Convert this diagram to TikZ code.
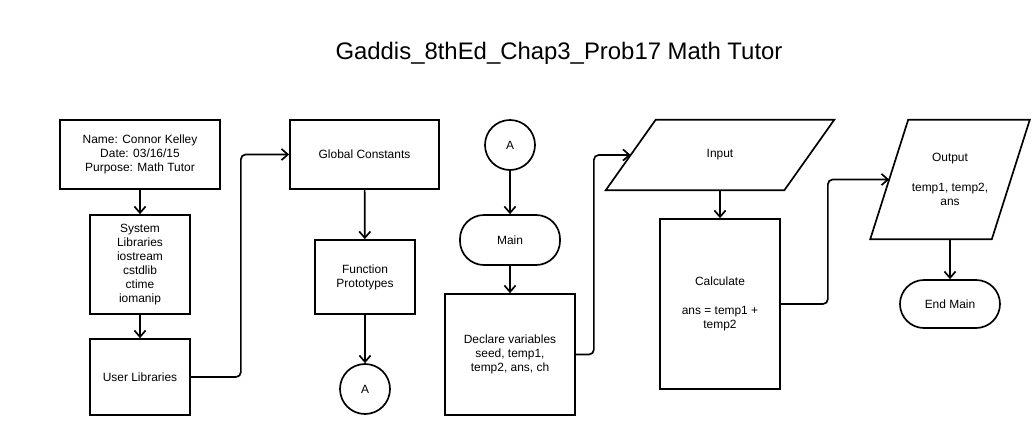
\documentclass[tikz,border=0pt]{standalone}
\usepackage{fontspec}
\setmainfont{Liberation Sans}
\usetikzlibrary{arrows.meta}

\begin{document}
\begin{tikzpicture}[x=0.025cm,y=-0.025cm,
    every node/.style={font=\fontsize{8.5}{10}\selectfont,align=center,inner sep=0pt},
    box/.style={draw,line width=1.2pt},
    term/.style={draw,line width=1.2pt,rounded corners=0.6cm},
    conn/.style={draw,circle,line width=1.2pt,minimum size=1.25cm},
    flow/.style={->,line width=1.2pt,rounded corners=1.2mm},
    >={Straight Barb[length=1.6mm,width=2.8mm]}]
  \useasboundingbox (0,0) rectangle (1035,435);

  \node[font=\fontsize{17}{20}\selectfont] (title) at (559,53) {Gaddis\_8thEd\_Chap3\_Prob17 Math Tutor};

  % header, libraries
  \node[box,minimum width=4cm,minimum height=1.725cm] (info) at (140,154.5) {Name: Connor Kelley\\Date: 03/16/15\\Purpose: Math Tutor};
  \node[box,minimum width=2.5cm,minimum height=2.475cm] (syslib) at (140,264.5) {System\\Libraries\\iostream\\cstdlib\\ctime\\iomanip};
  \node[box,minimum width=2.5cm,minimum height=1.9cm] (usrlib) at (140,377) {User Libraries};
  \node[box,minimum width=3.725cm,minimum height=1.725cm] (global) at (364.5,154.5) {Global Constants};
  \node[box,minimum width=2.5cm,minimum height=1.85cm] (proto) at (365,277) {Function\\Prototypes};
  \node[conn] (offA) at (365,389) {A};

  % main
  \node[conn] (onA) at (510,145) {A};
  \node[term,minimum width=2.5cm,minimum height=1.25cm] (main) at (510,240) {Main};
  \node[box,minimum width=3.25cm,minimum height=3.025cm] (decl) at (510,354.5) {Declare variables\\seed, temp1,\\temp2, ans, ch};
  \node[minimum width=5.7cm,minimum height=1.75cm] (input) at (720,155) {Input};
  \draw[box] ([xshift=1.25cm]input.north west) -- (input.north east) -- ([xshift=-1.25cm]input.south east) -- (input.south west) -- cycle;
  \coordinate (inL) at ([xshift=0.625cm]input.west);
  \node[box,minimum width=3cm,minimum height=4.25cm] (calc) at (720,304) {Calculate\\[11pt]ans = temp1 +\\temp2};
  \node[minimum width=3.975cm,minimum height=2.975cm] (output) at (950,179.5) {Output\\[11pt]temp1, temp2,\\ans};
  \draw[box] ([xshift=0.95cm]output.north west) -- (output.north east) -- ([xshift=-0.95cm]output.south east) -- (output.south west) -- cycle;
  \coordinate (outL) at ([xshift=0.475cm]output.west);
  \node[term,minimum width=2.5cm,minimum height=1.2cm] (endmain) at (950,304) {End Main};

  \draw[flow] (info) -- (syslib);
  \draw[flow] (syslib) -- (usrlib);
  \draw[flow] (usrlib.east) -- ++(50,0) |- (global.west);
  \draw[flow] (global) -- (proto);
  \draw[flow] (proto) -- (offA);
  \draw[flow] (onA) -- (main);
  \draw[flow] (main) -- (decl);
  \draw[flow] (decl.east) -- ++(18,0) |- (inL);
  \draw[flow] (input.south) -- (calc);
  \draw[flow] (calc.east) -- ++(47,0) |- (outL);
  \draw[flow] (output) -- (endmain);
\end{tikzpicture}
\end{document}
